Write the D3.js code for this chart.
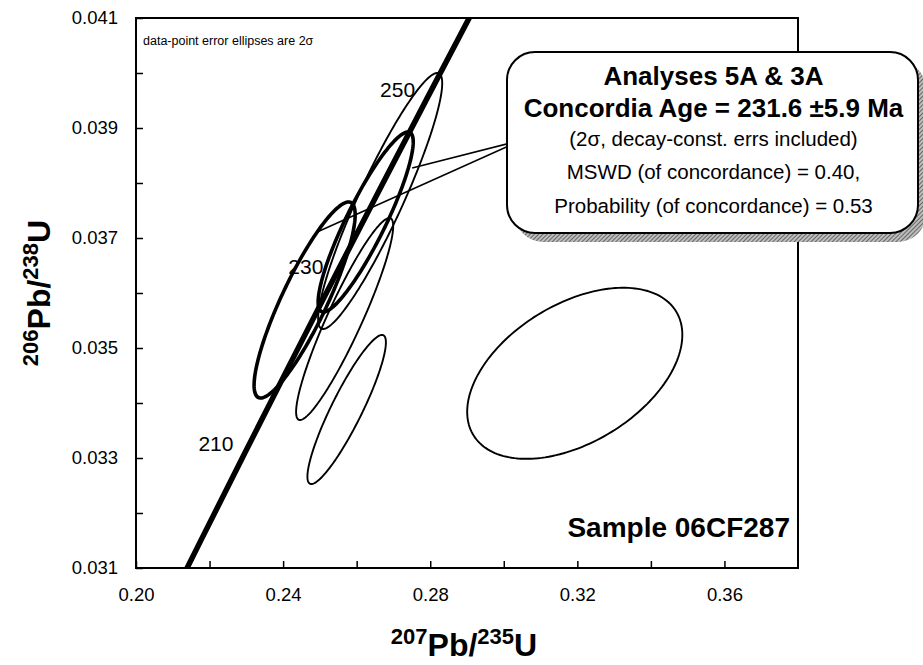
<!DOCTYPE html>
<html>
<head>
<meta charset="utf-8">
<script src="https://cdn.jsdelivr.net/npm/d3@7"></script>
<style>
  body { margin: 0; background: #fff; }
  svg text { font-family: "Liberation Sans", Arial, Helvetica, sans-serif; fill: #000; }
</style>
</head>
<body>
<svg id="chart" width="923" height="665"></svg>
<script>
// ---- axis ranges and ticks ----
const xDomain = [0.20, 0.38];
const yDomain = [0.031, 0.041];
const xTicks = [0.20, 0.22, 0.24, 0.26, 0.28, 0.30, 0.32, 0.34, 0.36];
const xTickLabels = ["0.20", "0.24", "0.28", "0.32", "0.36"];
const yTicks = [0.031, 0.032, 0.033, 0.034, 0.035, 0.036, 0.037, 0.038, 0.039, 0.040, 0.041];
const yTickLabels = ["0.031", "0.033", "0.035", "0.037", "0.039", "0.041"];

// ---- concordia, tabulated by age (Ma) ----
const concordiaAges = [190, 200, 210, 220, 230, 240, 250, 260, 270];
const concordiaPb207U235 = [0.20577, 0.21771, 0.22976, 0.24193, 0.25422, 0.26664, 0.27917, 0.29183, 0.30462];
const concordiaPb206U238 = [0.029913, 0.031511, 0.033113, 0.034716, 0.036323, 0.037932, 0.039543, 0.041157, 0.042773];
const ageLabels = [210, 230, 250];

// ---- analyses: centre, 2-sigma half-widths, error correlation ----
const analysisPb207U235 = [0.3193, 0.25728, 0.25673, 0.26639, 0.26245, 0.24585];
const analysisErr207    = [0.02925, 0.01067, 0.0132, 0.01687, 0.012925, 0.013741];
const analysisPb206U238 = [0.03454, 0.033882, 0.035527, 0.037673, 0.037291, 0.035873];
const analysisErr206    = [0.001555, 0.001355, 0.001836, 0.002327, 0.001636, 0.001782];
const analysisRho       = [0.45, 0.90, 0.92, 0.92, 0.89, 0.87];
const analysisInAge     = [false, false, false, false, true, true];

// callout anchors on the two analyses used for the age (data coords)
const calloutTargetsX = [0.2751, 0.24925];
const calloutTargetsY = [0.038273, 0.037109];

const boxLines = [
  "Analyses 5A & 3A",
  "Concordia Age = 231.6 ±5.9 Ma",
  "(2σ, decay-const. errs included)",
  "MSWD (of concordance) = 0.40,",
  "Probability (of concordance) = 0.53"
];

// ---- layout ----
const plot = { left: 136, right: 798, top: 18, bottom: 568 };
const svg = d3.select("#chart");
const x = d3.scaleLinear().domain(xDomain).range([plot.left, plot.right]);
const y = d3.scaleLinear().domain(yDomain).range([plot.bottom, plot.top]);

const defs = svg.append("defs");
defs.append("clipPath").attr("id", "plotClip")
  .append("rect")
  .attr("x", plot.left).attr("y", plot.top)
  .attr("width", plot.right - plot.left).attr("height", plot.bottom - plot.top);

const hatch = defs.append("pattern").attr("id", "hatch")
  .attr("width", 3).attr("height", 3)
  .attr("patternUnits", "userSpaceOnUse")
  .attr("patternTransform", "rotate(45)");
hatch.append("rect").attr("width", 3).attr("height", 3).attr("fill", "#bdbdbd");
hatch.append("line").attr("x1", 0).attr("y1", 0).attr("x2", 0).attr("y2", 3)
  .attr("stroke", "#3a3a3a").attr("stroke-width", 1.3);

// ---- axes (ticks point inward) ----
const xAxis = d3.axisBottom(x)
  .tickValues(xTicks)
  .tickSize(-7).tickSizeOuter(0).tickPadding(20)
  .tickFormat(d => { const s = d3.format(".2f")(d); return xTickLabels.includes(s) ? s : ""; });
const gx = svg.append("g").attr("transform", `translate(0,${plot.bottom})`).call(xAxis);

const yAxis = d3.axisLeft(y)
  .tickValues(yTicks)
  .tickSize(-7).tickSizeOuter(0).tickPadding(18)
  .tickFormat(d => { const s = d3.format(".3f")(d); return yTickLabels.includes(s) ? s : ""; });
const gy = svg.append("g").attr("transform", `translate(${plot.left},0)`).call(yAxis);

[gx, gy].forEach(g => {
  g.select(".domain").remove();
  g.selectAll(".tick line").attr("stroke", "#000").attr("stroke-width", 1.5);
  g.selectAll(".tick text").attr("font-size", 18.5).attr("fill", "#000")
    .style("font-family", '"Liberation Sans", Arial, sans-serif');
});

// plot frame
svg.append("rect")
  .attr("x", plot.left).attr("y", plot.top)
  .attr("width", plot.right - plot.left).attr("height", plot.bottom - plot.top)
  .attr("fill", "none").attr("stroke", "#000").attr("stroke-width", 2);

// ---- concordia and ellipses ----
const inner = svg.append("g").attr("clip-path", "url(#plotClip)");

const concordia = concordiaAges.map((a, i) => [concordiaPb207U235[i], concordiaPb206U238[i]]);
inner.append("path")
  .datum(concordia)
  .attr("d", d3.line().x(d => x(d[0])).y(d => y(d[1])).curve(d3.curveNatural))
  .attr("fill", "none").attr("stroke", "#000").attr("stroke-width", 5.5)
  .attr("stroke-linecap", "butt");

const angles = d3.range(0, 360, 2);
function ellipse(i) {
  const r = analysisRho[i], q = Math.sqrt(1 - r * r);
  return angles.map(deg => {
    const t = deg * Math.PI / 180;
    return [
      analysisPb207U235[i] + analysisErr207[i] * Math.cos(t),
      analysisPb206U238[i] + analysisErr206[i] * (r * Math.cos(t) + q * Math.sin(t))
    ];
  });
}
const ellipseLine = d3.line().x(d => x(d[0])).y(d => y(d[1])).curve(d3.curveLinearClosed);
inner.selectAll("path.ellipse")
  .data(analysisPb207U235.map((_, i) => i))
  .join("path")
  .attr("class", "ellipse")
  .attr("d", i => ellipseLine(ellipse(i)))
  .attr("fill", "none").attr("stroke", "#000")
  .attr("stroke-width", i => analysisInAge[i] ? 3.6 : 1.9);

// age labels beside the concordia
ageLabels.forEach(age => {
  const i = concordiaAges.indexOf(age);
  svg.append("text")
    .attr("x", x(concordiaPb207U235[i]) - 12)
    .attr("y", y(concordiaPb206U238[i]) - 1)
    .attr("text-anchor", "end")
    .attr("font-size", 21)
    .text(age);
});

// ---- callout ----
const box = { x: 507, y: 52, w: 411, h: 181, r: 28 };
const calloutStart = [box.x + 15, box.y + 88];
calloutTargetsX.forEach((tx, i) => {
  svg.append("line")
    .attr("x1", calloutStart[0]).attr("y1", calloutStart[1])
    .attr("x2", x(tx)).attr("y2", y(calloutTargetsY[i]))
    .attr("stroke", "#000").attr("stroke-width", 1.6);
});

svg.append("rect")
  .attr("x", box.x + 8).attr("y", box.y + 9)
  .attr("width", box.w).attr("height", box.h)
  .attr("rx", box.r).attr("ry", box.r)
  .attr("fill", "url(#hatch)");
svg.append("rect")
  .attr("x", box.x).attr("y", box.y)
  .attr("width", box.w).attr("height", box.h)
  .attr("rx", box.r).attr("ry", box.r)
  .attr("fill", "#fff").attr("stroke", "#000").attr("stroke-width", 2);

const boxCx = box.x + box.w / 2 + 1;
const boxBaselines = [85, 117, 146, 179, 213];
boxLines.forEach((t, i) => {
  svg.append("text")
    .attr("x", boxCx).attr("y", boxBaselines[i])
    .attr("text-anchor", "middle")
    .attr("font-size", i < 2 ? 26 : 20.5)
    .attr("font-weight", i < 2 ? "bold" : "normal")
    .text(t);
});

// ---- annotations ----
svg.append("text")
  .attr("x", 143).attr("y", 45)
  .attr("font-size", 12.5)
  .text("data-point error ellipses are 2σ");

svg.append("text")
  .attr("x", 790).attr("y", 537)
  .attr("text-anchor", "end")
  .attr("font-size", 28).attr("font-weight", "bold")
  .text("Sample 06CF287");

// ---- axis titles ----
function isotopeTitle(sel, a, b, c, d) {
  sel.append("tspan").attr("font-size", 22).attr("dy", -12).text(a);
  sel.append("tspan").attr("font-size", 32).attr("dy", 12).text(b);
  sel.append("tspan").attr("font-size", 22).attr("dy", -12).text(c);
  sel.append("tspan").attr("font-size", 32).attr("dy", 12).text(d);
}
const xTitle = svg.append("text")
  .attr("x", (plot.left + plot.right) / 2 - 3).attr("y", 656)
  .attr("text-anchor", "middle").attr("font-weight", "bold");
isotopeTitle(xTitle, "207", "Pb/", "235", "U");

const yTitle = svg.append("text")
  .attr("transform", `translate(50,${(plot.top + plot.bottom) / 2}) rotate(-90)`)
  .attr("text-anchor", "middle").attr("font-weight", "bold");
isotopeTitle(yTitle, "206", "Pb/", "238", "U");
</script>
</body>
</html>
